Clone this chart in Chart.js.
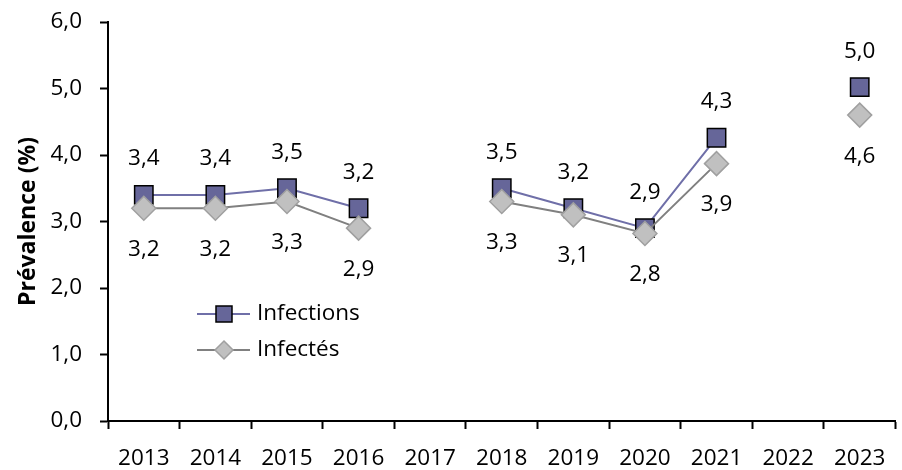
<!DOCTYPE html>
<html>
<head>
<meta charset="utf-8">
<script src="https://cdn.jsdelivr.net/npm/chart.js@4.4.1/dist/chart.umd.min.js"></script>
<style>
  body { margin: 0; overflow: hidden; background: #fff; }
  #wrap { width: 910px; height: 470px; position: relative; }
</style>
</head>
<body>
<div id="wrap"><canvas id="prevalence"></canvas></div>
<script>
// Data
const years = ["2013", "2014", "2015", "2016", "2017", "2018", "2019", "2020", "2021", "2022", "2023"];
const infections = [3.4, 3.4, 3.5, 3.2, null, 3.5, 3.2, 2.9, 4.26, null, 5.02];
const infectes = [3.2, 3.2, 3.3, 2.9, null, 3.3, 3.1, 2.82, 3.87, null, 4.6];
const yMin = 0;
const yMax = 6;
const yStep = 1;

const purple = "#6F6FA8";
const purpleFill = "#666699";
const grey = "#808080";
const greyFill = "#C0C0C0";

Chart.defaults.font.family = "'Open Sans', sans-serif";
Chart.defaults.font.size = 22.5;
Chart.defaults.color = "#000";

const fmt = (v) => v.toFixed(1).replace(".", ",");

// value labels above (Infections) / below (Infectés)
const valueLabels = {
  id: "valueLabels",
  afterDatasetsDraw(chart) {
    const ctx = chart.ctx;
    ctx.save();
    ctx.font = "22.5px 'Open Sans', sans-serif";
    ctx.fillStyle = "#000";
    ctx.textAlign = "center";
    ctx.textBaseline = "middle";
    chart.data.datasets.forEach((ds, i) => {
      const meta = chart.getDatasetMeta(i);
      meta.data.forEach((pt, j) => {
        const v = ds.data[j];
        if (v === null) return;
        const dy = ds.label === "Infections" ? -36 : 41;
        ctx.fillText(fmt(v), pt.x, pt.y + dy);
      });
    });
    ctx.restore();
  },
};

// legend inside the plot, line + marker + text
const innerLegend = {
  id: "innerLegend",
  afterDraw(chart) {
    const ctx = chart.ctx;
    const x0 = 197, x1 = 250, xm = 224, xt = 257;
    ctx.save();
    // Infections
    let y = 314;
    ctx.strokeStyle = purple;
    ctx.lineWidth = 2;
    ctx.beginPath(); ctx.moveTo(x0, y); ctx.lineTo(x1, y); ctx.stroke();
    ctx.fillStyle = purpleFill;
    ctx.strokeStyle = "#000";
    ctx.lineWidth = 1.5;
    ctx.fillRect(xm - 8, y - 8, 16, 16);
    ctx.strokeRect(xm - 8, y - 8, 16, 16);
    ctx.fillStyle = "#000";
    ctx.font = "22.5px 'Open Sans', sans-serif";
    ctx.textBaseline = "middle";
    ctx.fillText("Infections", xt, y);
    // Infectés
    y = 350;
    ctx.strokeStyle = grey;
    ctx.lineWidth = 2;
    ctx.beginPath(); ctx.moveTo(x0, y); ctx.lineTo(x1, y); ctx.stroke();
    ctx.fillStyle = greyFill;
    ctx.strokeStyle = "#A0A0A0";
    ctx.lineWidth = 1.5;
    ctx.beginPath();
    ctx.moveTo(xm, y - 9); ctx.lineTo(xm + 9, y); ctx.lineTo(xm, y + 9); ctx.lineTo(xm - 9, y);
    ctx.closePath(); ctx.fill(); ctx.stroke();
    ctx.fillStyle = "#000";
    ctx.fillText("Infectés", xt, y);
    ctx.restore();
  },
};

new Chart(document.getElementById("prevalence"), {
  type: "line",
  data: {
    labels: years,
    datasets: [
      {
        label: "Infections",
        data: infections,
        order: 1,
        borderColor: purple,
        borderWidth: 2,
        pointStyle: "rect",
        pointRadius: 13,
        pointBackgroundColor: purpleFill,
        pointBorderColor: "#000",
        pointBorderWidth: 1.5,
        tension: 0,
        spanGaps: false,
      },
      {
        label: "Infectés",
        data: infectes,
        order: 0,
        borderColor: grey,
        borderWidth: 2,
        pointStyle: "rectRot",
        pointRadius: 12,
        pointBackgroundColor: greyFill,
        pointBorderColor: "#A0A0A0",
        pointBorderWidth: 1.5,
        tension: 0,
        spanGaps: false,
      },
    ],
  },
  options: {
    responsive: true,
    maintainAspectRatio: false,
    animation: false,
    layout: { padding: { top: 22, right: 6, left: 0, bottom: 0 } },
    plugins: {
      legend: { display: false },
      tooltip: { enabled: false },
    },
    scales: {
      x: {
        offset: true,
        grid: { offset: true, drawOnChartArea: false, color: "#000", tickLength: 8, tickWidth: 2 },
        border: { color: "#000", width: 2 },
        ticks: { padding: 16, maxRotation: 0, autoSkip: false },
        afterFit(scale) { scale.height = 49; },
      },
      y: {
        min: yMin,
        max: yMax,
        grid: { drawOnChartArea: false, color: "#000", tickLength: 8, tickWidth: 2 },
        border: { color: "#000", width: 2 },
        ticks: { stepSize: yStep, padding: 18, callback: (v) => fmt(v) },
        title: {
          display: true,
          text: "Prévalence (%)",
          font: { size: 23, weight: "bold" },
          padding: { top: 15, bottom: 0 },
        },
        afterFit(scale) {
          scale.width = 108;
          scale.paddingTop = 0;
          scale.paddingBottom = 0;
        },
      },
    },
  },
  plugins: [valueLabels, innerLegend],
});
</script>
</body>
</html>
